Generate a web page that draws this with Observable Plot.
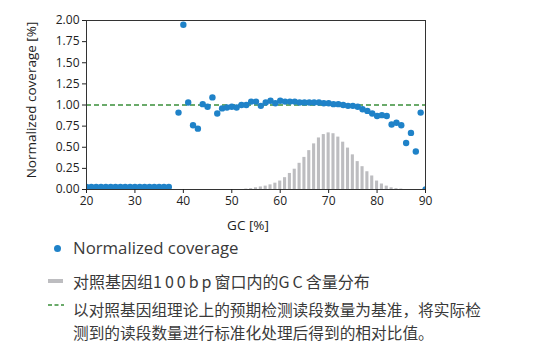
<!DOCTYPE html>
<html><head><meta charset="utf-8">
<script src="https://cdn.jsdelivr.net/npm/d3@7"></script>
<script src="https://cdn.jsdelivr.net/npm/@observablehq/plot@0.6"></script>
<style>
body{margin:0;background:#fff;}
#wrap{position:relative;width:534px;height:356px;font-family:"Open Sans",sans-serif;overflow:hidden;}
#chart{position:absolute;left:0;top:0;}
.lg{position:absolute;left:73px;font-size:16px;color:#3a3a3a;white-space:nowrap;line-height:20px;}
.cn{font-family:"Noto Sans CJK SC",sans-serif;}
.wide{letter-spacing:3px;}
.sw{position:absolute;}
</style></head><body>
<div id="wrap">
<div id="chart"></div>
<div class="sw" id="swDot" style="left:53.5px;top:244.5px;width:7px;height:7px;border-radius:50%;"></div>
<div class="lg" style="top:238px;font-size:16.8px;" id="lg1"></div>
<div class="sw" id="swBar" style="left:48px;top:279px;width:15px;height:4px;"></div>
<div class="lg cn" style="top:271px;" id="lg2"></div>
<svg class="sw" style="left:46px;top:300px;" width="20" height="10"><line id="swDash" x1="2" x2="18" y1="5" y2="5" stroke-width="1.4" stroke-dasharray="4,2.5"/></svg>
<div class="lg cn" style="top:300px;font-size:15.7px;" id="lg3a"></div>
<div class="lg cn" style="top:322.7px;font-size:15.7px;" id="lg3b"></div>
</div>
<script>
// ---- data ----
const gcPoints = [20,21,22,23,24,25,26,27,28,29,30,31,32,33,34,35,36,37,38,39,40,41,42,43,44,45,46,47,48,49,50,51,52,53,54,55,56,57,58,59,60,61,62,63,64,65,66,67,68,69,70,71,72,73,74,75,76,77,78,79,80,81,82,83,84,85,86,87,88,89,90];
const coverage = [0.03,0.03,0.03,0.03,0.03,0.03,0.03,0.03,0.03,0.03,0.03,0.03,0.03,0.03,0.03,0.03,0.03,0.03,null,0.91,1.95,1.03,0.76,0.72,1.01,0.98,1.09,0.90,0.96,0.97,0.98,0.97,1.00,1.00,1.04,1.04,0.99,1.03,1.05,1.02,1.05,1.04,1.04,1.04,1.03,1.03,1.03,1.03,1.03,1.02,1.02,1.01,1.01,1.00,0.99,0.99,0.98,0.95,0.93,0.90,0.87,0.88,0.87,0.77,0.79,0.76,0.55,0.67,0.45,0.91,0.00];
const gcBins = [53,54,55,56,57,58,59,60,61,62,63,64,65,66,67,68,69,70,71,72,73,74,75,76,77,78,79,80,81,82,83,84,85];
const binFraction = [0.005,0.01,0.02,0.03,0.04,0.055,0.075,0.10,0.14,0.19,0.24,0.31,0.38,0.46,0.54,0.61,0.65,0.67,0.66,0.62,0.56,0.49,0.41,0.33,0.27,0.21,0.16,0.10,0.065,0.04,0.02,0.01,0.005];
const refLevel = [1];
const xTicks = [20,30,40,50,60,70,80,90];
const yTicks = [0,0.25,0.5,0.75,1,1.25,1.5,1.75,2];
const xLabel = "GC [%]";
const yLabel = "Normalized coverage [%]";
const legendLabels = ["Normalized coverage", "对照基因组<span class='wide'>100bp</span>窗口内的<span class='wide'>GC</span>含量分布", "以对照基因组理论上的预期检测读段数量为基准，将实际检", "测到的读段数量进行标准化处理后得到的相对比值。"];
const colors = {dot: "#1f82c8", bar: "#bdbdc0", ref: "#3a8f3a", frame: "#333"};

// ---- tables ----
const points = gcPoints.map((g, i) => ({gc: g, v: coverage[i]}));
const bins = gcBins.map((g, i) => ({gc: g, f: binFraction[i]}));
const halfW = 0.32;

const chart = Plot.plot({
  width: 534, height: 234,
  marginLeft: 86, marginRight: 109, marginTop: 20, marginBottom: 45,
  style: {fontFamily: "Open Sans, sans-serif", fontSize: "12px", color: "#222", background: "transparent"},
  x: {domain: [20, 90], label: null},
  y: {domain: [0, 2], label: null},
  marks: [
    Plot.rectY(bins, {x1: d => d.gc - halfW, x2: d => d.gc + halfW, y: "f", fill: colors.bar}),
    Plot.ruleY(refLevel, {stroke: colors.ref, strokeWidth: 1.3, strokeDasharray: "5,3"}),
    Plot.dot(points, {x: "gc", y: "v", r: 3.2, fill: colors.dot, clip: true}),
    Plot.frame({stroke: colors.frame, strokeWidth: 1}),
    Plot.axisX({ticks: xTicks, tickSize: 4, tickPadding: 3, label: null, tickFormat: d3.format("d")}),
    Plot.axisY({ticks: yTicks, tickSize: 4, tickPadding: 3, label: null, tickFormat: d3.format(".2f")}),
    Plot.text([xLabel], {text: d => d, frameAnchor: "bottom", lineAnchor: "middle", dy: 36, dx: -8, fontSize: 13.5, fill: "#222"}),
    Plot.text([yLabel], {text: d => d, frameAnchor: "left", textAnchor: "middle", dx: -55, dy: -5, rotate: -90, fontSize: 13.5, fill: "#222"})
  ]
});
document.getElementById("chart").appendChild(chart);
document.getElementById("swDot").style.background = colors.dot;
document.getElementById("swBar").style.background = colors.bar;
document.getElementById("swDash").setAttribute("stroke", colors.ref);
document.getElementById("lg1").innerHTML = legendLabels[0];
document.getElementById("lg2").innerHTML = legendLabels[1];
document.getElementById("lg3a").innerHTML = legendLabels[2];
document.getElementById("lg3b").innerHTML = legendLabels[3];
</script>
</body></html>
